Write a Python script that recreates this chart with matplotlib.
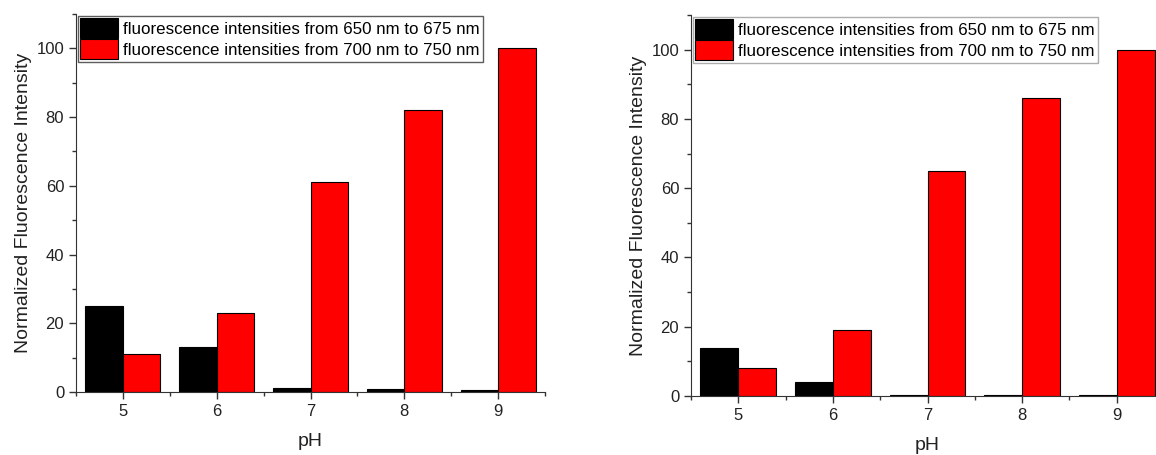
import numpy as np
import matplotlib.pyplot as plt
from matplotlib.ticker import MultipleLocator

plt.rcParams['font.family'] = ['Liberation Sans', 'DejaVu Sans']

ph = [5, 6, 7, 8, 9]
labels = ['fluorescence intensities from 650 nm to 675 nm',
          'fluorescence intensities from 700 nm to 750 nm']

# left panel
left_650 = [25, 13, 1.2, 0.8, 0.5]
left_700 = [11, 23, 61, 82, 100]
# right panel
right_650 = [14, 4, 0.4, 0.3, 0.2]
right_700 = [8, 19, 65, 86, 100]

fig = plt.figure(figsize=(11.56, 4.55), dpi=100)
W, H = 1156., 455.
ax1 = fig.add_axes([76/W, 1-392/H, (545-76)/W, (392-14)/H])
ax2 = fig.add_axes([691/W, 1-396/H, (1164-691)/W, (396-15)/H])

def draw(ax, s1, s2, frame_col):
    x = np.array(ph, dtype=float)
    w = 0.4
    ax.bar(x-w/2, s1, w, color='black', edgecolor='black', lw=0.8, label=labels[0])
    ax.bar(x+w/2, s2, w, color='#ff0000', edgecolor='black', lw=0.8, label=labels[1])
    ax.set_xlim(4.5, 9.5)
    ax.set_ylim(0, 110)
    ax.set_xticks(ph)
    ax.xaxis.set_minor_locator(MultipleLocator(0.5))
    ax.yaxis.set_major_locator(MultipleLocator(20))
    ax.yaxis.set_minor_locator(MultipleLocator(10))
    for s in ['top', 'right']:
        ax.spines[s].set_visible(False)
    for s in ['left', 'bottom']:
        ax.spines[s].set_color('#333333')
    ax.tick_params(which='major', length=5, width=1, colors='#333333', labelsize=12, labelcolor='#222222')
    ax.tick_params(which='minor', length=3, width=1, colors='#333333')
    ax.set_xlabel('pH', fontsize=14, color='#222222', labelpad=10)
    ax.set_ylabel('Normalized Fluorescence Intensity', fontsize=14, color='#222222', labelpad=3)
    leg = ax.legend(loc='upper left', bbox_to_anchor=(0.0, 1.0), fontsize=12.2, frameon=True,
                    fancybox=False, handlelength=2.25, handleheight=1.45, handletextpad=0.3,
                    borderpad=0.15, labelspacing=0.05, borderaxespad=0.1)
    leg.get_frame().set_edgecolor(frame_col)
    leg.get_frame().set_linewidth(1)

draw(ax1, left_650, left_700, '#333333')
draw(ax2, right_650, right_700, '#999999')

fig.savefig('out.png', dpi=100)
